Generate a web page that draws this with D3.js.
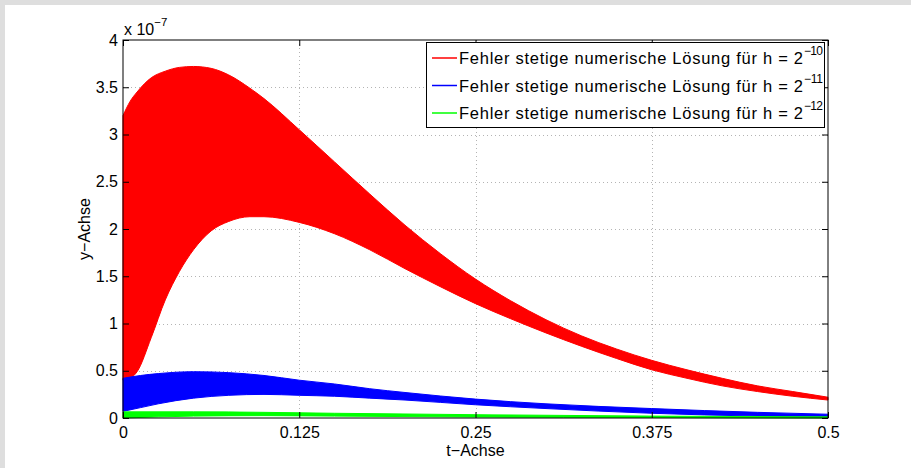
<!DOCTYPE html>
<html>
<head>
<meta charset="utf-8">
<script src="https://cdn.jsdelivr.net/npm/d3@7"></script>
<style>
	html, body { margin: 0; padding: 0; background: #dedede; }
	svg { display: block; font-family: "Liberation Sans", Arial, sans-serif; }
</style>
</head>
<body>
<div id="box"></div>
<script>
// envelope of the (densely oscillating) error curves, values in 1e-7
const tRed = [0, 0.005, 0.01, 0.02, 0.03, 0.04, 0.05, 0.0625, 0.075, 0.09, 0.1, 0.125, 0.15, 0.175, 0.2, 0.225, 0.25, 0.275, 0.3, 0.325, 0.35, 0.375, 0.4, 0.425, 0.45, 0.475, 0.5];
const redUpper = [3.2, 3.35, 3.45, 3.6, 3.67, 3.71, 3.72, 3.70, 3.63, 3.49, 3.38, 3.05, 2.71, 2.37, 2.04, 1.74, 1.47, 1.24, 1.04, 0.87, 0.73, 0.61, 0.51, 0.42, 0.34, 0.28, 0.22];
const redLower = [0.4, 0.42, 0.49, 0.85, 1.25, 1.55, 1.78, 1.98, 2.08, 2.13, 2.13, 2.07, 1.95, 1.78, 1.58, 1.39, 1.21, 1.05, 0.9, 0.76, 0.63, 0.51, 0.42, 0.34, 0.28, 0.23, 0.19];

const tBlue = [0, 0.0125, 0.025, 0.05, 0.075, 0.1, 0.125, 0.15, 0.175, 0.2, 0.25, 0.3, 0.375, 0.45, 0.5];
const blueUpper = [0.42, 0.45, 0.47, 0.49, 0.48, 0.45, 0.40, 0.36, 0.31, 0.27, 0.20, 0.15, 0.10, 0.06, 0.04];
const blueLower = [0.07, 0.11, 0.15, 0.21, 0.24, 0.25, 0.24, 0.23, 0.21, 0.19, 0.14, 0.10, 0.05, 0.02, 0.01];

const tGreen = [0, 0.05, 0.1, 0.15, 0.25, 0.375, 0.5];
const greenUpper = [0.065, 0.065, 0.06, 0.05, 0.035, 0.02, 0.012];
const greenLower = [0.0, 0.02, 0.025, 0.02, 0.01, 0.005, 0.0];

const xTicks = [0, 0.125, 0.25, 0.375, 0.5];
const yTicks = [0, 0.5, 1, 1.5, 2, 2.5, 3, 3.5, 4];
const legendText = 'Fehler stetige numerische Lösung für h = 2';
const legendExp = ['−10', '−11', '−12'];
const colors = ['#ff0000', '#0000ff', '#00ff00'];

const width = 911;
const height = 468;

const marginLeft = 123;
const marginRight = 83;
const marginTop = 40;
const marginBottom = 50;

const x = d3.scaleLinear([0, 0.5], [marginLeft, width - marginRight]);
const y = d3.scaleLinear([0, 4], [height - marginBottom, marginTop]);

const svg = d3.select('#box').append('svg')
	.attr('width', width)
	.attr('height', height)
	.attr('viewBox', [0, 0, width, height]);

svg.append('rect')
	.attr('x', 5).attr('y', 5)
	.attr('width', width - 5).attr('height', height - 5)
	.attr('fill', '#fff');

// grid
const grid = svg.append('g')
	.attr('stroke', '#b4b4b4')
	.attr('stroke-width', 1)
	.attr('stroke-dasharray', '1,3');
grid.selectAll('.gx').data(xTicks.slice(1, -1)).join('line')
	.attr('x1', d => Math.round(x(d)) + 0.5).attr('x2', d => Math.round(x(d)) + 0.5)
	.attr('y1', y(4)).attr('y2', y(0));
grid.selectAll('.gy').data(yTicks.slice(1, -1)).join('line')
	.attr('y1', d => Math.round(y(d)) + 0.5).attr('y2', d => Math.round(y(d)) + 0.5)
	.attr('x1', x(0)).attr('x2', x(0.5));

const series = [
	{ t: tRed, hi: redUpper, lo: redLower },
	{ t: tBlue, hi: blueUpper, lo: blueLower },
	{ t: tGreen, hi: greenUpper, lo: greenLower },
];

series.forEach((s, k) => {
	const area = d3.area()
		.curve(d3.curveMonotoneX)
		.x((_, i) => x(s.t[i]))
		.y0((_, i) => y(s.lo[i]))
		.y1((_, i) => y(s.hi[i]));
	svg.append('path')
		.attr('fill', colors[k])
		.attr('stroke', colors[k])
		.attr('stroke-width', 1)
		.attr('d', area(s.t));
});

// axes, ticks inward
const tickLen = 6;
const fontSize = 16;

const xAxis = d3.axisBottom(x).tickValues(xTicks).tickFormat(d => String(d))
	.tickSizeInner(-tickLen).tickSizeOuter(0).tickPadding(8);
const yAxis = d3.axisLeft(y).tickValues(yTicks).tickFormat(d => String(d))
	.tickSizeInner(-tickLen).tickSizeOuter(0).tickPadding(5);

svg.append('g')
	.attr('transform', `translate(0,${y(0)})`)
	.call(xAxis)
	.call(g => g.select('.domain').remove())
	.call(g => g.selectAll('text').attr('font-size', fontSize).attr('font-family', null).attr('fill', '#000').attr('dy', '0.75em'));

svg.append('g')
	.attr('transform', `translate(${x(0)},0)`)
	.call(yAxis)
	.call(g => g.select('.domain').remove())
	.call(g => g.selectAll('text').attr('font-size', fontSize).attr('font-family', null).attr('fill', '#000'));

svg.append('g')
	.attr('transform', `translate(0,${y(4)})`)
	.call(d3.axisTop(x).tickValues(xTicks).tickFormat('').tickSizeInner(-tickLen).tickSizeOuter(0))
	.call(g => g.select('.domain').remove());

svg.append('g')
	.attr('transform', `translate(${x(0.5)},0)`)
	.call(d3.axisRight(y).tickValues(yTicks).tickFormat('').tickSizeInner(-tickLen).tickSizeOuter(0))
	.call(g => g.select('.domain').remove());

svg.append('rect')
	.attr('x', x(0)).attr('y', y(4))
	.attr('width', x(0.5) - x(0)).attr('height', y(0) - y(4))
	.attr('fill', 'none').attr('stroke', '#000').attr('stroke-width', 1);

// exponent
const ex = svg.append('text')
	.attr('x', x(0) + 1).attr('y', 35)
	.attr('font-size', fontSize);
ex.append('tspan').text('x 10');
ex.append('tspan').attr('font-size', 11.5).attr('dy', -9).text('−7');

// axis labels
svg.append('text')
	.attr('x', (x(0) + x(0.5)) / 2).attr('y', 456)
	.attr('text-anchor', 'middle')
	.attr('font-size', fontSize)
	.text('t−Achse');

svg.append('text')
	.attr('transform', `translate(90,${(y(0) + y(4)) / 2}) rotate(-90)`)
	.attr('text-anchor', 'middle')
	.attr('font-size', fontSize)
	.text('y−Achse');

// legend
const lg = svg.append('g');
lg.append('rect')
	.attr('x', 426.5).attr('y', 42.5)
	.attr('width', 398).attr('height', 85)
	.attr('fill', '#fff').attr('stroke', '#000');

legendExp.forEach((lab, i) => {
	const ly = 58 + i * 27.5;
	lg.append('line')
		.attr('x1', 432).attr('x2', 457)
		.attr('y1', ly).attr('y2', ly)
		.attr('stroke', colors[i]).attr('stroke-width', 1.5);
	lg.append('text')
		.attr('x', 459).attr('y', ly + 6)
		.attr('font-size', 16.5)
		.attr('textLength', 344)
		.attr('lengthAdjust', 'spacing')
		.text(legendText);
	lg.append('text')
		.attr('x', 804).attr('y', ly - 3)
		.attr('font-size', 12)
		.attr('textLength', 19)
		.attr('lengthAdjust', 'spacing')
		.text(lab);
});
</script>
</body>
</html>
